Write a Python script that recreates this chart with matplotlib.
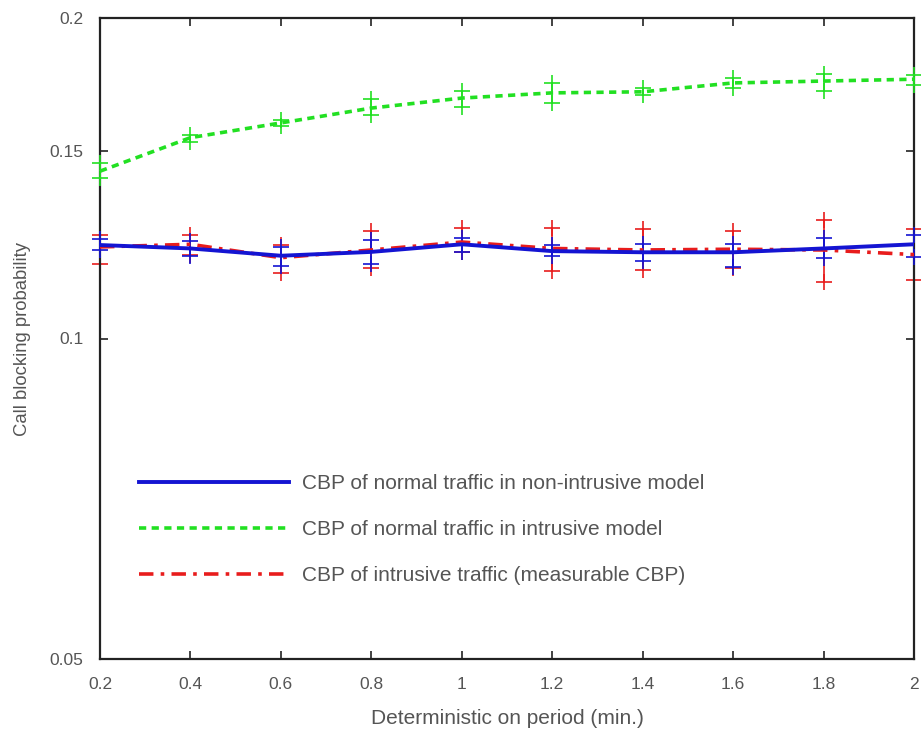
import matplotlib.pyplot as plt
from matplotlib.ticker import FixedLocator, FixedFormatter, NullLocator

# %% Data (call blocking probability vs. on period)

period = [0.2, 0.4, 0.6, 0.8, 1.0, 1.2, 1.4, 1.6, 1.8, 2.0]

cbp_nonintr = [0.1224, 0.1215, 0.1196, 0.1206, 0.1226, 0.1208, 0.1205, 0.1205, 0.1215, 0.1226]
cbp_nonintr_lo = [0.1211, 0.1195, 0.1170, 0.1176, 0.1205, 0.1196, 0.1182, 0.1168, 0.1189, 0.1193]
cbp_nonintr_hi = [0.1240, 0.1236, 0.1219, 0.1237, 0.1244, 0.1224, 0.1228, 0.1228, 0.1244, 0.1250]

cbp_intr_model = [0.1436, 0.1544, 0.1594, 0.1646, 0.1682, 0.1701, 0.1705, 0.1738, 0.1745, 0.1752]
cbp_intr_model_lo = [0.1414, 0.1529, 0.1583, 0.1621, 0.1649, 0.1663, 0.1693, 0.1719, 0.1708, 0.1730]
cbp_intr_model_hi = [0.1461, 0.1553, 0.1604, 0.1678, 0.1709, 0.1739, 0.1719, 0.1756, 0.1772, 0.1768]

cbp_intr_traffic = [0.1219, 0.1226, 0.1191, 0.1211, 0.1232, 0.1215, 0.1211, 0.1213, 0.1211, 0.1199]
cbp_intr_traffic_lo = [0.1176, 0.1199, 0.1153, 0.1164, 0.1206, 0.1157, 0.1159, 0.1165, 0.1129, 0.1134]
cbp_intr_traffic_hi = [0.1252, 0.1252, 0.1224, 0.1261, 0.1270, 0.1270, 0.1267, 0.1261, 0.1292, 0.1267]

yticks = [0.05, 0.1, 0.15, 0.2]
ytick_labels = ['0.05', '0.1', '0.15', '0.2']
xticks = [0.2, 0.4, 0.6, 0.8, 1.0, 1.2, 1.4, 1.6, 1.8, 2.0]
xtick_labels = ['0.2', '0.4', '0.6', '0.8', '1', '1.2', '1.4', '1.6', '1.8', '2']

blue = '#1414d2'
green = '#22e022'
red = '#e81c1c'
txt = '#555555'

plt.rcParams['font.family'] = ['Liberation Sans', 'DejaVu Sans']

# %% Plot
fig = plt.figure(figsize=(9.21, 7.31), dpi=100)
ax = fig.add_axes([100 / 921, 72 / 731, 814 / 921, 641 / 731])


def bars(x, lo, hi, color, z):
    # vertical bar plus '+' caps at both ends
    ax.vlines(x, lo, hi, color=color, lw=1.2, zorder=z)
    ax.plot(x, lo, ls='none', marker='+', ms=11, mew=1.2, color=color,
            zorder=z, clip_on=False)
    ax.plot(x, hi, ls='none', marker='+', ms=11, mew=1.2, color=color,
            zorder=z, clip_on=False)


bars(period, cbp_intr_traffic_lo, cbp_intr_traffic_hi, red, 2)
bars(period, cbp_nonintr_lo, cbp_nonintr_hi, blue, 3)
bars(period, cbp_intr_model_lo, cbp_intr_model_hi, green, 3)

l1, = ax.plot(period, cbp_nonintr, '-', color=blue, lw=2.8, zorder=5,
              label='CBP of normal traffic in non-intrusive model')
l2, = ax.plot(period, cbp_intr_model, color=green, lw=2.6, zorder=5,
              dashes=(2.0, 1.5), label='CBP of normal traffic in intrusive model')
l3, = ax.plot(period, cbp_intr_traffic, color=red, lw=2.6, zorder=4,
              dashes=(4, 2, 1, 2), label='CBP of intrusive traffic (measurable CBP)')

ax.set_yscale('log')
ax.set_xlim(0.2, 2.0)
ax.set_ylim(0.05, 0.2)
ax.yaxis.set_major_locator(FixedLocator(yticks))
ax.yaxis.set_major_formatter(FixedFormatter(ytick_labels))
ax.yaxis.set_minor_locator(NullLocator())
ax.set_xticks(xticks)
ax.set_xticklabels(xtick_labels)

ax.tick_params(direction='in', length=6, width=1.2, top=True, right=True,
               labelsize=12.5, labelcolor=txt, color='#222222')
ax.tick_params(axis='x', pad=13)
ax.tick_params(axis='y', pad=12)
for s in ax.spines.values():
    s.set_linewidth(1.6)
    s.set_color('#222222')

ax.set_xlabel('Deterministic on period (min.)', fontsize=15, color=txt, labelpad=12)
ax.set_ylabel('Call blocking probability', fontsize=13.3, color=txt, labelpad=13)

ax.legend(handles=[l1, l2, l3], loc='upper left', bbox_to_anchor=(0.025, 0.318),
          frameon=False, fontsize=15, handlelength=7.2, handletextpad=0.6,
          labelspacing=1.3, labelcolor=txt)

fig.savefig('out.png', dpi=100)
